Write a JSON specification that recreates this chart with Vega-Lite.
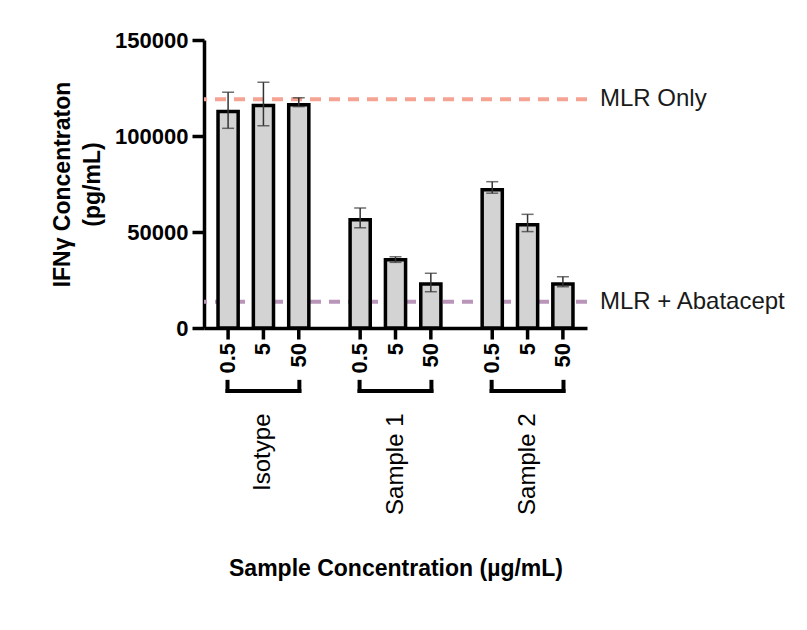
{
  "$schema": "https://vega.github.io/schema/vega-lite/v6.json",
  "width": 383,
  "height": 288,
  "padding": {"left": 51, "top": 29, "right": 5, "bottom": 5},
  "background": "white",
  "config": {
    "view": {"stroke": null},
    "font": "Liberation Sans",
    "axis": {"grid": false, "domainColor": "black", "tickColor": "black", "labelColor": "black", "titleColor": "black"}
  },
  "datasets": {
    "bars": [
      {"group": "Isotype", "conc": "0.5", "value": 112800, "lo": 104000, "hi": 122800},
      {"group": "Isotype", "conc": "5", "value": 115900, "lo": 105400, "hi": 128000},
      {"group": "Isotype", "conc": "50", "value": 116300, "lo": 115300, "hi": 119900},
      {"group": "Sample 1", "conc": "0.5", "value": 56400, "lo": 52200, "hi": 62500},
      {"group": "Sample 1", "conc": "5", "value": 35500, "lo": 34200, "hi": 37100},
      {"group": "Sample 1", "conc": "50", "value": 22900, "lo": 18900, "hi": 28500},
      {"group": "Sample 2", "conc": "0.5", "value": 72000, "lo": 70200, "hi": 76200},
      {"group": "Sample 2", "conc": "5", "value": 53800, "lo": 50200, "hi": 59200},
      {"group": "Sample 2", "conc": "50", "value": 22900, "lo": 21500, "hi": 26700}
    ],
    "refs": [
      {"label": "MLR Only", "value": 119100},
      {"label": "MLR + Abatacept", "value": 13700}
    ],
    "groups": [
      {"group": "Isotype"},
      {"group": "Sample 1"},
      {"group": "Sample 2"}
    ]
  },
  "encoding": {
    "x": {
      "field": "group",
      "type": "nominal",
      "sort": null,
      "scale": {"domain": ["Isotype", "Sample 1", "Sample 2"], "paddingInner": 0.2, "paddingOuter": 0.05},
      "axis": {
        "title": "Sample Concentration (µg/mL)",
        "titleFontSize": 23,
        "titleFontWeight": "bold",
        "titlePadding": 43,
        "labelAngle": 270,
        "labelFontSize": 24,
        "labelPadding": 85,
        "ticks": false,
        "domainWidth": 3.5
      }
    }
  },
  "layer": [
    {
      "data": {"name": "refs"},
      "mark": {"type": "rule", "strokeWidth": 4, "strokeDash": [11, 8]},
      "encoding": {
        "x": null,
        "y": {"field": "value", "type": "quantitative", "scale": {"domain": [0, 150000], "nice": false}},
        "color": {
          "field": "label",
          "type": "nominal",
          "scale": {"domain": ["MLR Only", "MLR + Abatacept"], "range": ["#f5a393", "#b895b9"]},
          "legend": null
        }
      }
    },
    {
      "data": {"name": "refs"},
      "mark": {"type": "text", "x": "width", "dx": 13, "align": "left", "baseline": "middle", "fontSize": 24, "color": "#1a1a1a"},
      "encoding": {
        "x": null,
        "y": {"field": "value", "type": "quantitative"},
        "text": {"field": "label"}
      }
    },
    {
      "data": {"name": "bars"},
      "mark": {"type": "bar", "fill": "#d3d3d3", "stroke": "black", "strokeWidth": 3.5},
      "encoding": {
        "xOffset": {"field": "conc", "type": "nominal", "sort": null, "scale": {"domain": ["0.5", "5", "50"], "paddingInner": 0.43, "paddingOuter": 0.21}},
        "y": {
          "field": "value",
          "type": "quantitative",
          "axis": {
            "values": [0, 50000, 100000, 150000],
            "format": "d",
            "title": ["IFNγ Concentraton", "(pg/mL)"],
            "titleFontSize": 23,
            "titleFontWeight": "bold",
            "titleLineHeight": 30,
            "titlePadding": 10,
            "labelFontSize": 22,
            "labelFontWeight": "bold",
            "labelPadding": 4,
            "tickSize": 12,
            "tickWidth": 3.5,
            "domainWidth": 3.5
          }
        }
      }
    },
    {
      "data": {"name": "bars"},
      "mark": {"type": "rule", "strokeWidth": 1.5, "color": "#333333"},
      "encoding": {
        "xOffset": {"field": "conc", "type": "nominal", "sort": null},
        "y": {"field": "lo", "type": "quantitative"},
        "y2": {"field": "hi"}
      }
    },
    {
      "data": {"name": "bars"},
      "mark": {"type": "tick", "orient": "horizontal", "size": 12, "thickness": 1.5, "color": "#333333"},
      "encoding": {
        "xOffset": {"field": "conc", "type": "nominal", "sort": null},
        "y": {"field": "lo", "type": "quantitative"}
      }
    },
    {
      "data": {"name": "bars"},
      "mark": {"type": "tick", "orient": "horizontal", "size": 12, "thickness": 1.5, "color": "#333333"},
      "encoding": {
        "xOffset": {"field": "conc", "type": "nominal", "sort": null},
        "y": {"field": "hi", "type": "quantitative"}
      }
    },
    {
      "data": {"name": "bars"},
      "mark": {"type": "rule", "strokeWidth": 3.5, "color": "black", "clip": false},
      "encoding": {
        "xOffset": {"field": "conc", "type": "nominal", "sort": null},
        "y": {"datum": 0},
        "y2": {"datum": -6000}
      }
    },
    {
      "data": {"name": "bars"},
      "mark": {"type": "text", "angle": 270, "align": "right", "baseline": "middle", "fontSize": 22, "fontWeight": "bold", "color": "black"},
      "encoding": {
        "xOffset": {"field": "conc", "type": "nominal", "sort": null},
        "y": {"datum": -7800},
        "text": {"field": "conc"}
      }
    },
    {
      "data": {"name": "groups"},
      "mark": {"type": "rule", "strokeWidth": 4, "color": "black", "strokeCap": "square"},
      "encoding": {
        "x": {"field": "group", "type": "nominal", "bandPosition": 0.16},
        "x2": {"field": "group", "bandPosition": 0.84},
        "y": {"datum": -32800}
      }
    },
    {
      "data": {"name": "groups"},
      "mark": {"type": "rule", "strokeWidth": 4, "color": "black"},
      "encoding": {
        "x": {"field": "group", "type": "nominal", "bandPosition": 0.16},
        "y": {"datum": -27000},
        "y2": {"datum": -33800}
      }
    },
    {
      "data": {"name": "groups"},
      "mark": {"type": "rule", "strokeWidth": 4, "color": "black"},
      "encoding": {
        "x": {"field": "group", "type": "nominal", "bandPosition": 0.84},
        "y": {"datum": -27000},
        "y2": {"datum": -33800}
      }
    }
  ]
}
